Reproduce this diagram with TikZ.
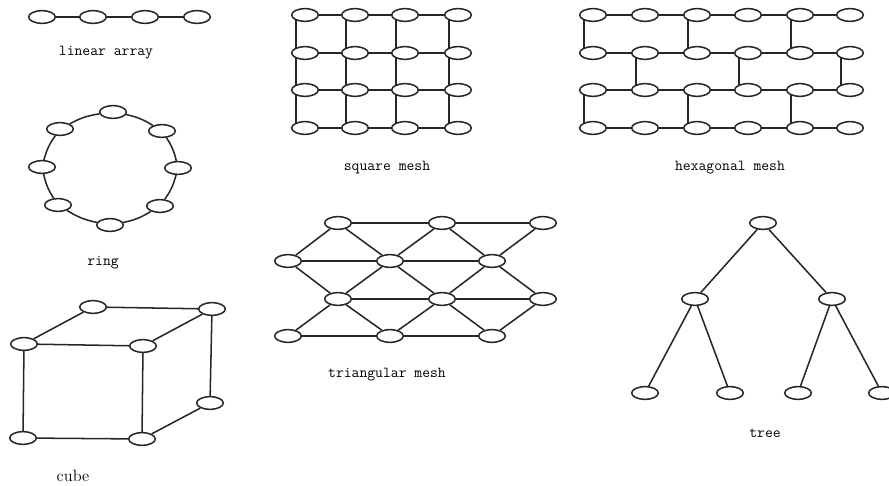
\documentclass[tikz,border=0pt]{standalone}
\usepackage{tikz}
\usetikzlibrary{shapes.geometric}
\tikzset{
  penode/.style={ellipse, draw=black!85, line width=1.3pt, minimum width=0.8cm,
    minimum height=0.38cm, inner sep=0pt},
  pelink/.style={draw=black!85, line width=1.3pt},
  pelabel/.style={font=\ttfamily\fontsize{13}{15}\selectfont, text=black},
}

\begin{document}
\begin{tikzpicture}[x=0.03cm, y=-0.03cm]
\clip (0,0) rectangle (889,486);

% linear array
\node[penode] (lin1) at (42,17) {};
\node[penode] (lin2) at (93,17) {};
\node[penode] (lin3) at (145,17) {};
\node[penode] (lin4) at (197,17) {};
\draw[pelink] (lin1)--(lin2);
\draw[pelink] (lin2)--(lin3);
\draw[pelink] (lin3)--(lin4);
\node[pelabel] (linlab) at (106,53) {linear array};

% ring
\node[penode] (ring1) at (113,112) {};
\node[penode] (ring2) at (162,131) {};
\node[penode] (ring3) at (178,168) {};
\node[penode] (ring4) at (160,206) {};
\node[penode] (ring5) at (110,225) {};
\node[penode] (ring6) at (58,205) {};
\node[penode] (ring7) at (42,167) {};
\node[penode] (ring8) at (60,129) {};
\draw[pelink] (ring1) to[bend left=10] (ring2);
\draw[pelink] (ring2) to[bend left=10] (ring3);
\draw[pelink] (ring3) to[bend left=10] (ring4);
\draw[pelink] (ring4) to[bend left=10] (ring5);
\draw[pelink] (ring5) to[bend left=10] (ring6);
\draw[pelink] (ring6) to[bend left=10] (ring7);
\draw[pelink] (ring7) to[bend left=10] (ring8);
\draw[pelink] (ring8) to[bend left=10] (ring1);
\node[pelabel] (ringlab) at (103,263) {ring};

% cube
\node[penode] (cbtl) at (93,307) {};
\node[penode] (cbtr) at (212,309) {};
\node[penode] (cftl) at (24,344) {};
\node[penode] (cftr) at (143,346) {};
\node[penode] (cbbr) at (210,403) {};
\node[penode] (cfbl) at (23,438) {};
\node[penode] (cfbr) at (142,439) {};
\draw[pelink] (cbtl)--(cbtr);
\draw[pelink] (cbtl)--(cftl);
\draw[pelink] (cbtr)--(cftr);
\draw[pelink] (cftl)--(cftr);
\draw[pelink] (cftl)--(cfbl);
\draw[pelink] (cftr)--(cfbr);
\draw[pelink] (cbtr)--(cbbr);
\draw[pelink] (cbbr)--(cfbr);
\draw[pelink] (cfbl)--(cfbr);
\node[pelabel, font=\rmfamily\fontsize{14}{16}\selectfont] (cubelab) at (73,476) {cube};

% square mesh
\foreach \c/\x in {1/305,2/355,3/405,4/458}
  \foreach \r/\y in {1/15,2/53,3/90,4/128}
    \node[penode] (sq\r\c) at (\x,\y) {};
\foreach \r in {1,...,4}
  \foreach \c/\d in {1/2,2/3,3/4}
    \draw[pelink] (sq\r\c)--(sq\r\d);
\foreach \c in {1,...,4}
  \foreach \r/\s in {1/2,2/3,3/4}
    \draw[pelink] (sq\r\c.210)--(sq\s\c.150);
\node[pelabel] (sqlab) at (387,168) {square mesh};

% hexagonal mesh
\foreach \c/\x in {1/593,2/645,3/697,4/748,5/800,6/850}
  \foreach \r/\y in {1/15,2/53,3/90,4/128}
    \node[penode] (hx\r\c) at (\x,\y) {};
\foreach \r in {1,...,4}
  \foreach \c/\d in {1/2,2/3,3/4,4/5,5/6}
    \draw[pelink] (hx\r\c)--(hx\r\d);
\foreach \c in {1,3,5} {
  \draw[pelink] (hx1\c.210)--(hx2\c.150);
  \draw[pelink] (hx3\c.210)--(hx4\c.150);
}
\foreach \c in {2,4,6}
  \draw[pelink] (hx2\c.210)--(hx3\c.150);
\node[pelabel] (hxlab) at (730,168) {hexagonal mesh};

% triangular mesh
\foreach \c/\x in {1/338,2/442,3/543} {
  \node[penode] (tr1\c) at (\x,223) {};
  \node[penode] (tr3\c) at (\x,299) {};
}
\foreach \c/\x in {1/288,2/390,3/492} {
  \node[penode] (tr2\c) at (\x,261) {};
  \node[penode] (tr4\c) at (\x,336) {};
}
\foreach \r in {1,...,4}
  \foreach \c/\d in {1/2,2/3}
    \draw[pelink] (tr\r\c)--(tr\r\d);
\foreach \a/\b in {1/2,3/4} {
  \draw[pelink] (tr\a1)--(tr\b1);
  \draw[pelink] (tr\a1)--(tr\b2);
  \draw[pelink] (tr\a2)--(tr\b2);
  \draw[pelink] (tr\a2)--(tr\b3);
  \draw[pelink] (tr\a3)--(tr\b3);
}
\draw[pelink] (tr21)--(tr31);
\draw[pelink] (tr22)--(tr31);
\draw[pelink] (tr22)--(tr32);
\draw[pelink] (tr23)--(tr32);
\draw[pelink] (tr23)--(tr33);
\node[pelabel] (trlab) at (387,375) {triangular mesh};

% tree
\node[penode] (root) at (763,223) {};
\node[penode] (midl) at (695,299) {};
\node[penode] (midr) at (832,299) {};
\node[penode] (leaf1) at (645,393) {};
\node[penode] (leaf2) at (730,393) {};
\node[penode] (leaf3) at (798,393) {};
\node[penode] (leaf4) at (882,393) {};
\draw[pelink] (root)--(midl);
\draw[pelink] (root)--(midr);
\draw[pelink] (midl)--(leaf1);
\draw[pelink] (midl)--(leaf2);
\draw[pelink] (midr)--(leaf3);
\draw[pelink] (midr)--(leaf4);
\node[pelabel] (treelab) at (765,433) {tree};
\end{tikzpicture}
\end{document}
